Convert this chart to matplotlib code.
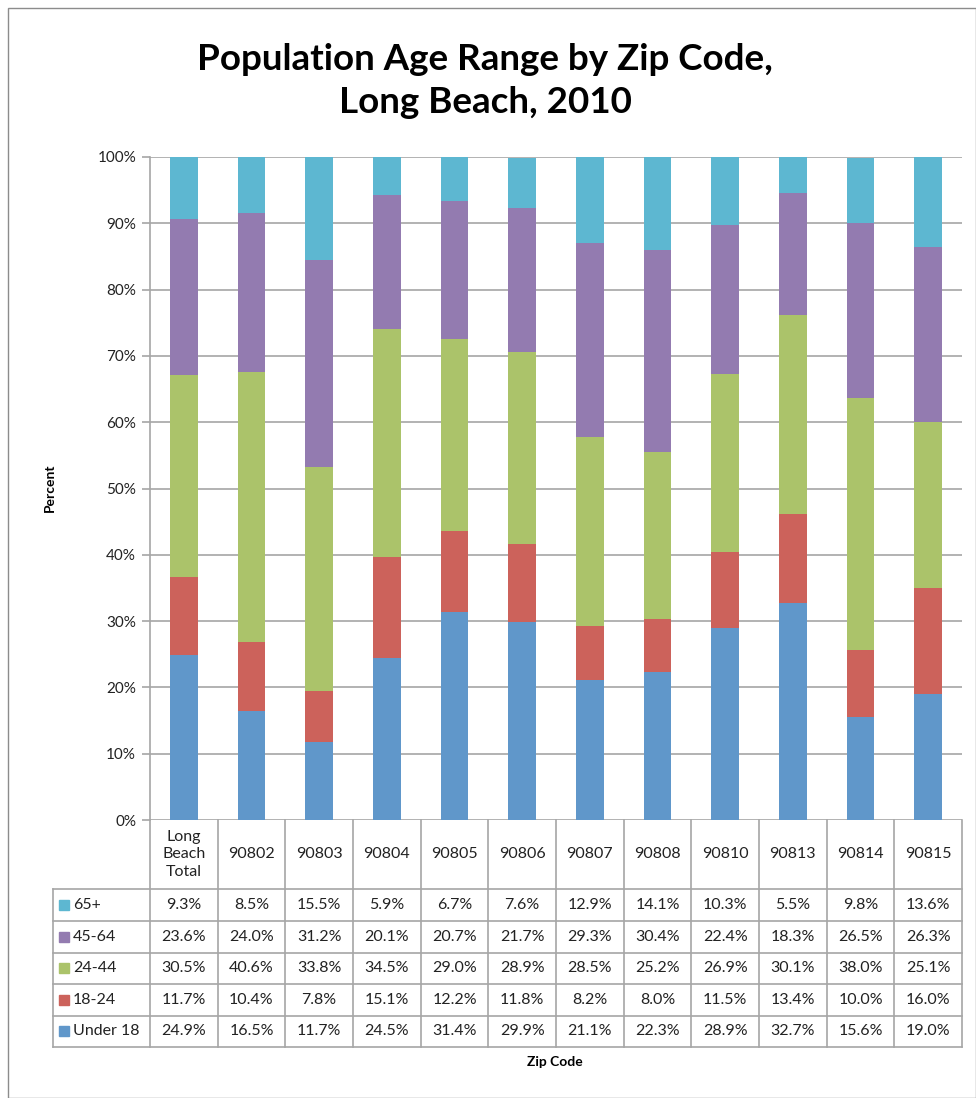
import numpy as np
import matplotlib
matplotlib.use("Agg")
from matplotlib import pyplot as plt
from matplotlib.patches import Rectangle

"""
Population age range by zip code, Long Beach 2010
- 100% stacked columns with a data table underneath
"""

zips = ["Long\nBeach\nTotal", "90802", "90803", "90804", "90805", "90806",
        "90807", "90808", "90810", "90813", "90814", "90815"]

under18 = [24.9, 16.5, 11.7, 24.5, 31.4, 29.9, 21.1, 22.3, 28.9, 32.7, 15.6, 19.0]
age18_24 = [11.7, 10.4, 7.8, 15.1, 12.2, 11.8, 8.2, 8.0, 11.5, 13.4, 10.0, 16.0]
age24_44 = [30.5, 40.6, 33.8, 34.5, 29.0, 28.9, 28.5, 25.2, 26.9, 30.1, 38.0, 25.1]
age45_64 = [23.6, 24.0, 31.2, 20.1, 20.7, 21.7, 29.3, 30.4, 22.4, 18.3, 26.5, 26.3]
age65 = [9.3, 8.5, 15.5, 5.9, 6.7, 7.6, 12.9, 14.1, 10.3, 5.5, 9.8, 13.6]

series = ["Under 18", "18-24", "24-44", "45-64", "65+"]
colors = ["#6097CA", "#CC625B", "#ABC36A", "#937BB0", "#5DB7D1"]
values = [under18, age18_24, age24_44, age45_64, age65]

plt.rcParams['font.family'] = ['Lato', 'DejaVu Sans']

W, H = 976, 1098
fig = plt.figure(figsize=(W / 100, H / 100), dpi=100)

# outer chart frame
fig.patches.append(Rectangle((8 / W, 0), 1 - 8 / W, 1 - 8 / H, transform=fig.transFigure,
                             fill=False, edgecolor="#8c8c8c", linewidth=1))

def px_axes(x0, y0, x1, y1):
    # pixel box (top-left origin) -> figure axes
    return fig.add_axes([x0 / W, 1 - y1 / H, (x1 - x0) / W, (y1 - y0) / H])

# main plot
left, right, top, bottom = 150, 962, 157, 820
ax = px_axes(left, top, right, bottom)
n = len(zips)
x = np.arange(n)
base = np.zeros(n)
for vals, col in zip(values, colors):
    vals = np.array(vals)
    ax.bar(x, vals, bottom=base, width=0.41, color=col, zorder=3)
    base += vals

ax.set_xlim(-0.5, n - 0.5)
ax.set_ylim(0, 100)
ax.set_yticks(np.arange(0, 101, 10))
ax.set_yticklabels([f"{v}%" for v in range(0, 101, 10)], fontsize=11, color="#222222")
ax.yaxis.grid(True, color="#a6a6a6", linewidth=1.2, zorder=0)
ax.set_xticks([])
ax.tick_params(axis="y", length=6, color="#a6a6a6", width=1.2, pad=4)
for s in ["top", "right", "bottom"]:
    ax.spines[s].set_visible(False)
ax.spines["left"].set_color("#a6a6a6")
ax.spines["left"].set_linewidth(1.2)

# data table
t_left, t_right = 53, 962
header_bottom = 889
row_edges = [889, 921, 953, 984, 1016, 1047]
col_w = (t_right - left) / n
tax = px_axes(t_left, bottom, t_right, row_edges[-1])
tax.set_xlim(t_left, t_right)
tax.set_ylim(row_edges[-1], bottom)
tax.axis("off")

lc = "#a6a6a6"
lw = 1.2
# vertical lines
for i in range(n + 1):
    xv = left + i * col_w
    tax.plot([xv, xv], [bottom, row_edges[-1]], color=lc, lw=lw, clip_on=False)
tax.plot([t_left, t_left], [header_bottom, row_edges[-1]], color=lc, lw=lw, clip_on=False)
# horizontal lines
for yv in row_edges:
    tax.plot([t_left, t_right], [yv, yv], color=lc, lw=lw, clip_on=False)

for i, z in enumerate(zips):
    tax.text(left + (i + 0.5) * col_w, (bottom + header_bottom) / 2, z,
             ha="center", va="center", fontsize=11.5, linespacing=1.35, color="#222222")

# rows from top: 65+ down to Under 18
for r, k in enumerate(range(len(series) - 1, -1, -1)):
    yc = (row_edges[r] + row_edges[r + 1]) / 2
    tax.add_patch(Rectangle((t_left + 6, yc - 5), 10, 10, color=colors[k], clip_on=False))
    tax.text(t_left + 20, yc, series[k], ha="left", va="center", fontsize=11.5, color="#222222")
    for i in range(n):
        tax.text(left + (i + 0.5) * col_w, yc, f"{values[k][i]:.1f}%",
                 ha="center", va="center", fontsize=11.5, color="#222222")

fig.text(485 / W, 1 - 81 / H, "Population Age Range by Zip Code,\nLong Beach, 2010",
         ha="center", va="center", fontsize=26.5, fontweight="bold", linespacing=1.37)
fig.text(50 / W, 1 - 488 / H, "Percent", rotation=90, ha="center", va="center",
         fontsize=10, fontweight="bold")
fig.text(555 / W, 1 - 1062 / H, "Zip Code", ha="center", va="center",
         fontsize=10, fontweight="bold")

fig.savefig("out.png", dpi=100)
